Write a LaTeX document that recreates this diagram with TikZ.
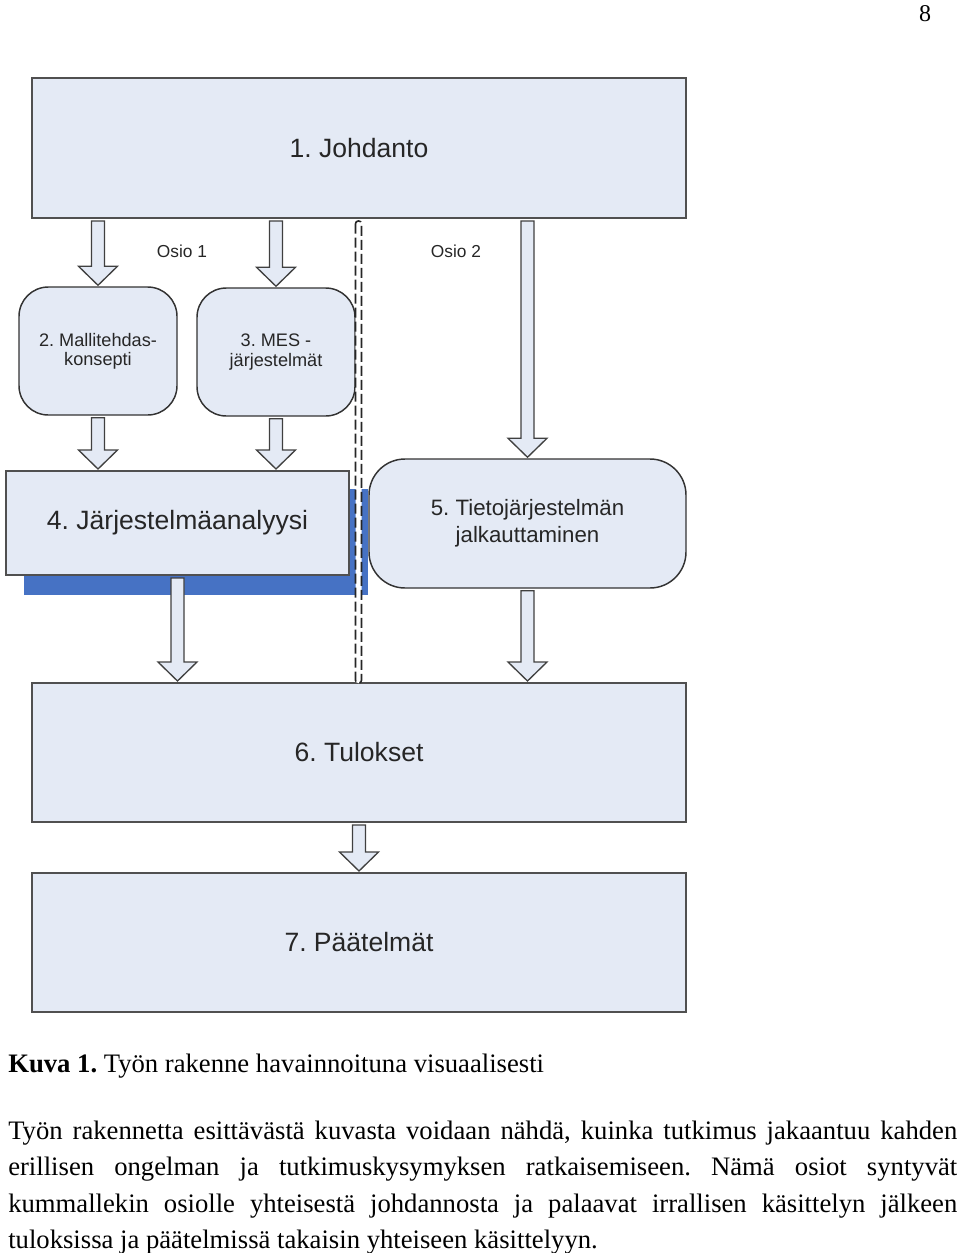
\documentclass[tikz,border=0pt]{standalone}
\usepackage{fontspec}
\setmainfont{Liberation Serif}
\newfontfamily\arialf{Liberation Sans}
\usetikzlibrary{calc}
\frenchspacing
\definecolor{boxfill}{RGB}{228,234,245}
\definecolor{boxline}{RGB}{80,80,80}
\definecolor{shadowblue}{RGB}{70,114,196}
\definecolor{dtext}{RGB}{38,38,38}
\newcommand\barrow[2]{%
  \draw[blockarrow] ($(#1)+(-6.5,2)$) -- ($(#1)+(6.5,2)$) -- ($(#2)+(6.5,-20)$) -- ($(#2)+(19.5,-20)$) -- ($(#2)+(0,-1)$) -- ($(#2)+(-19.5,-20)$) -- ($(#2)+(-6.5,-20)$) -- cycle;}
\newcommand\fs[2]{\fontsize{#1}{#2}\selectfont}
\tikzset{
  sqbox/.style={draw=boxline, line width=1.5pt, fill=boxfill, inner sep=0pt, text=dtext, font=\arialf\fs{19.9}{24}},
  rbox/.style={draw=black!80, line width=1.1pt, fill=boxfill, inner sep=0pt, text=dtext, align=center},
  blockarrow/.style={draw=black!75, line width=1pt, fill=boxfill, line join=miter},
  body/.style={anchor=base west, inner sep=0pt, font=\fs{20}{24}},
  osio/.style={inner sep=0pt, text=dtext, font=\arialf\fs{13}{15}}
}
\begin{document}
\begin{tikzpicture}[x=0.75pt, y=-0.75pt]
\useasboundingbox (0,0) rectangle (960,1253);
% page number
\node[anchor=base, inner sep=0pt, font=\fs{18}{20}] (pg) at (925,21) {8};
% shadow of box 4
\fill[shadowblue] (24,489) rectangle (368,595);
% boxes
\node[sqbox, minimum width=654*0.75pt, minimum height=140*0.75pt] (b1) at (359,148) {1. Johdanto};
\node[rbox, rounded corners=22pt, minimum width=158*0.75pt, minimum height=128*0.75pt, font=\arialf\fs{13.6}{14.5}] (b2) at (98,351) {2. Mallitehdas-\\konsepti};
\node[rbox, rounded corners=22pt, minimum width=158*0.75pt, minimum height=128*0.75pt, font=\arialf\fs{13.6}{14.5}] (b3) at (276,352) {3. MES -\\järjestelmät};
\node[sqbox, minimum width=343*0.75pt, minimum height=104*0.75pt] (b4) at (177.5,523) {4. Järjestelmäanalyysi};
\node[rbox, rounded corners=27pt, minimum width=317*0.75pt, minimum height=129*0.75pt, font=\arialf\fs{16.7}{20}] (b5) at (527.5,523.5) {5. Tietojärjestelmän\\jalkauttaminen};
\node[sqbox, minimum width=654*0.75pt, minimum height=139*0.75pt] (b6) at (359,752.5) {6. Tulokset};
\node[sqbox, minimum width=654*0.75pt, minimum height=139*0.75pt] (b7) at (359,942.5) {7. Päätelmät};
% section labels
\node[osio] (o1) at (182,251) {Osio 1};
\node[osio] (o2) at (456,251) {Osio 2};
% divider
\draw[draw=black!85, line width=1.2pt, dash pattern=on 7.5pt off 3pt, fill=white, rounded corners=2pt] (355.5,221) rectangle (361.5,683);
% block arrows
\coordinate (s12) at (b1.south -| b2.north);
\coordinate (s13) at (b1.south -| b3.north);
\coordinate (s15) at (b1.south -| b5.north);
\coordinate (e24) at (b4.north -| b2.south);
\coordinate (e34) at (b4.north -| b3.south);
\coordinate (e46) at (b6.north -| b4.south);
\coordinate (e56) at (b6.north -| b5.south);
\barrow{s12}{b2.north}
\barrow{s13}{b3.north}
\barrow{s15}{b5.north}
\barrow{b2.south}{e24}
\barrow{b3.south}{e34}
\barrow{b4.south}{e46}
\barrow{b5.south}{e56}
\barrow{b6.south}{b7.north}
% caption and text
\node[body] (cap) at (8,1072) {\textbf{Kuva 1.} Työn rakenne havainnoituna visuaalisesti};
\node[body] (l1) at (8,1139) {\makebox[711.75pt][s]{Työn rakennetta esittävästä kuvasta voidaan nähdä, kuinka tutkimus jakaantuu kahden}};
\node[body] (l2) at (8,1175.5) {\makebox[711.75pt][s]{erillisen ongelman ja tutkimuskysymyksen ratkaisemiseen. Nämä osiot syntyvät}};
\node[body] (l3) at (8,1212) {\makebox[711.75pt][s]{kummallekin osiolle yhteisestä johdannosta ja palaavat irrallisen käsittelyn jälkeen}};
\node[body] (l4) at (8,1248.5) {tuloksissa ja päätelmissä takaisin yhteiseen käsittelyyn.};
\end{tikzpicture}
\end{document}
